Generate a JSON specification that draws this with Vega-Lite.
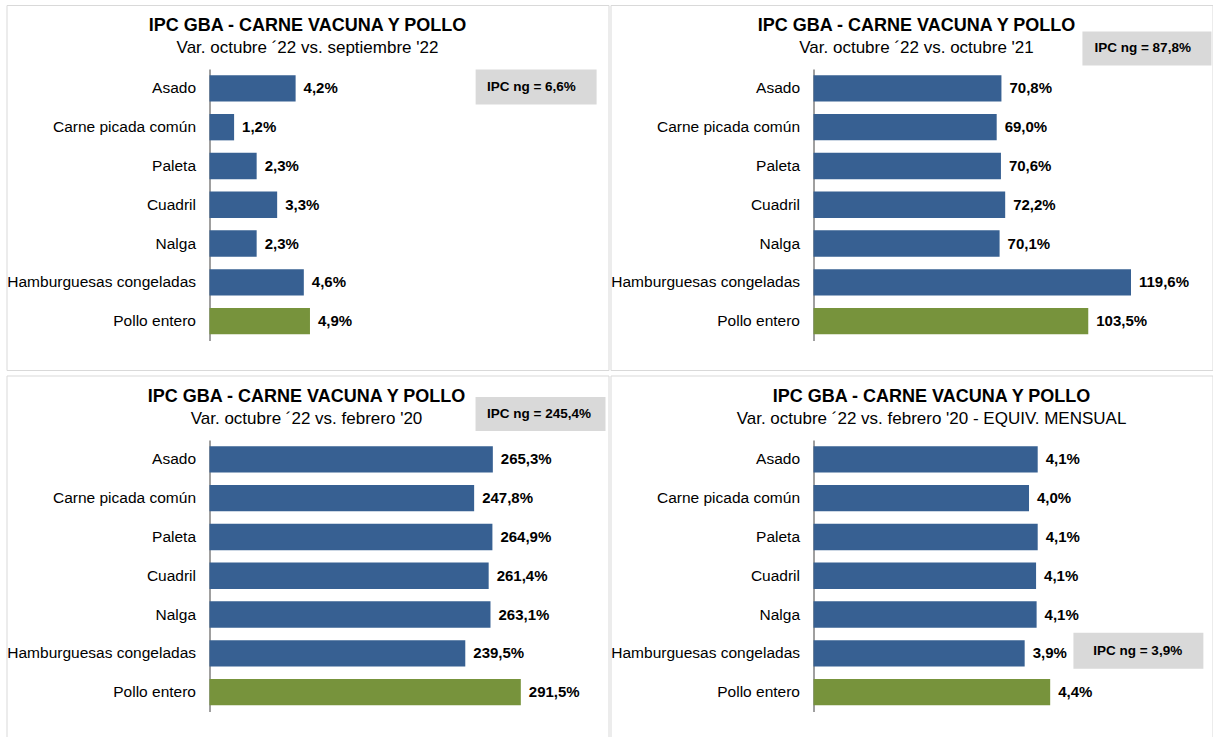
{
  "$schema": "https://vega.github.io/schema/vega-lite/v6.json",
  "background": "white",
  "padding": {"left": 5.5, "top": 4, "right": 0, "bottom": 0},
  "columns": 2,
  "spacing": {"row": 3.5, "column": 0},
  "config": {
    "view": {"stroke": "#d9d9d9", "strokeWidth": 1},
    "font": "Liberation Sans",
    "title": {"anchor": "middle", "frame": "group", "offset": -51, "font": "Liberation Sans", "fontSize": 18, "fontWeight": "bold", "color": "#000000", "subtitleFont": "Liberation Sans", "subtitleFontSize": 17, "subtitleColor": "#000000", "subtitlePadding": 5},
    "axisY": {"orient": "left", "offset": -203, "domainColor": "#404040", "domainWidth": 1, "ticks": false, "grid": false, "labelPadding": 14, "labelFontSize": 15.5, "labelFont": "Liberation Sans", "labelColor": "#000000", "labelLimit": 400, "title": null}
  },
  "datasets": {
    "p1": [
      {"item": "Asado", "value": 4.2, "label": "4,2%", "group": "vacuna"},
      {"item": "Carne picada común", "value": 1.2, "label": "1,2%", "group": "vacuna"},
      {"item": "Paleta", "value": 2.3, "label": "2,3%", "group": "vacuna"},
      {"item": "Cuadril", "value": 3.3, "label": "3,3%", "group": "vacuna"},
      {"item": "Nalga", "value": 2.3, "label": "2,3%", "group": "vacuna"},
      {"item": "Hamburguesas congeladas", "value": 4.6, "label": "4,6%", "group": "vacuna"},
      {"item": "Pollo entero", "value": 4.9, "label": "4,9%", "group": "pollo"}
    ],
    "p2": [
      {"item": "Asado", "value": 70.8, "label": "70,8%", "group": "vacuna"},
      {"item": "Carne picada común", "value": 69.0, "label": "69,0%", "group": "vacuna"},
      {"item": "Paleta", "value": 70.6, "label": "70,6%", "group": "vacuna"},
      {"item": "Cuadril", "value": 72.2, "label": "72,2%", "group": "vacuna"},
      {"item": "Nalga", "value": 70.1, "label": "70,1%", "group": "vacuna"},
      {"item": "Hamburguesas congeladas", "value": 119.6, "label": "119,6%", "group": "vacuna"},
      {"item": "Pollo entero", "value": 103.5, "label": "103,5%", "group": "pollo"}
    ],
    "p3": [
      {"item": "Asado", "value": 265.3, "label": "265,3%", "group": "vacuna"},
      {"item": "Carne picada común", "value": 247.8, "label": "247,8%", "group": "vacuna"},
      {"item": "Paleta", "value": 264.9, "label": "264,9%", "group": "vacuna"},
      {"item": "Cuadril", "value": 261.4, "label": "261,4%", "group": "vacuna"},
      {"item": "Nalga", "value": 263.1, "label": "263,1%", "group": "vacuna"},
      {"item": "Hamburguesas congeladas", "value": 239.5, "label": "239,5%", "group": "vacuna"},
      {"item": "Pollo entero", "value": 291.5, "label": "291,5%", "group": "pollo"}
    ],
    "p4": [
      {"item": "Asado", "value": 4.13, "label": "4,1%", "group": "vacuna"},
      {"item": "Carne picada común", "value": 3.97, "label": "4,0%", "group": "vacuna"},
      {"item": "Paleta", "value": 4.13, "label": "4,1%", "group": "vacuna"},
      {"item": "Cuadril", "value": 4.10, "label": "4,1%", "group": "vacuna"},
      {"item": "Nalga", "value": 4.11, "label": "4,1%", "group": "vacuna"},
      {"item": "Hamburguesas congeladas", "value": 3.89, "label": "3,9%", "group": "vacuna"},
      {"item": "Pollo entero", "value": 4.36, "label": "4,4%", "group": "pollo"}
    ],
    "ipc1": [{"label": "IPC ng = 6,6%", "value": 6.6}],
    "ipc2": [{"label": "IPC ng = 87,8%", "value": 87.8}],
    "ipc3": [{"label": "IPC ng = 245,4%", "value": 245.4}],
    "ipc4": [{"label": "IPC ng = 3,9%", "value": 3.9}]
  },
  "concat": [
    {
      "width": 602, "height": 365,
      "title": {"text": "IPC GBA - CARNE VACUNA Y POLLO", "subtitle": "Var. octubre ´22 vs. septiembre '22", "dx": 0},
      "layer": [
        {
          "data": {"name": "ipc1"},
          "mark": {"type": "bar", "height": 35, "yOffset": -1.5, "color": "#d9d9d9"},
          "encoding": {
            "x": {"datum": 12.98, "type": "quantitative", "scale": {"domain": [0, 19.46], "range": [203, 602], "nice": false}, "axis": null},
            "x2": {"datum": 18.88},
            "y": {"datum": "Asado", "type": "nominal"}
          }
        },
        {
          "data": {"name": "ipc1"},
          "mark": {"type": "text", "yOffset": -1.5, "align": "center", "baseline": "middle", "fontSize": 13.5, "fontWeight": "bold", "font": "Liberation Sans", "color": "#000000"},
          "encoding": {
            "x": {"datum": 15.7, "type": "quantitative"},
            "y": {"datum": "Asado", "type": "nominal"},
            "text": {"field": "label"}
          }
        },
        {
          "data": {"name": "p1"},
          "mark": {"type": "bar"},
          "encoding": {
            "y": {"field": "item", "type": "nominal", "scale": {"domain": ["Asado", "Carne picada común", "Paleta", "Cuadril", "Nalga", "Hamburguesas congeladas", "Pollo entero"], "range": [64, 335.5], "paddingInner": 0.32, "paddingOuter": 0.16}},
            "x": {"field": "value", "type": "quantitative"},
            "color": {"field": "group", "type": "nominal", "scale": {"domain": ["vacuna", "pollo"], "range": ["#376092", "#77933c"]}, "legend": null}
          }
        },
        {
          "data": {"name": "p1"},
          "mark": {"type": "text", "align": "left", "baseline": "middle", "dx": 8, "fontSize": 15, "fontWeight": "bold", "font": "Liberation Sans", "color": "#000000"},
          "encoding": {
            "y": {"field": "item", "type": "nominal"},
            "x": {"field": "value", "type": "quantitative"},
            "text": {"field": "label"}
          }
        }
      ]
    },
    {
      "width": 602, "height": 365,
      "title": {"text": "IPC GBA - CARNE VACUNA Y POLLO", "subtitle": "Var. octubre ´22 vs. octubre '21", "dx": 5},
      "layer": [
        {
          "data": {"name": "ipc2"},
          "mark": {"type": "bar", "height": 34, "yOffset": -40, "color": "#d9d9d9"},
          "encoding": {
            "x": {"datum": 101.3, "type": "quantitative", "scale": {"domain": [0, 150.3], "range": [203, 602], "nice": false}, "axis": null},
            "x2": {"datum": 149.9},
            "y": {"datum": "Asado", "type": "nominal"}
          }
        },
        {
          "data": {"name": "ipc2"},
          "mark": {"type": "text", "yOffset": -40, "align": "center", "baseline": "middle", "fontSize": 13.5, "fontWeight": "bold", "font": "Liberation Sans", "color": "#000000"},
          "encoding": {
            "x": {"datum": 124.0, "type": "quantitative"},
            "y": {"datum": "Asado", "type": "nominal"},
            "text": {"field": "label"}
          }
        },
        {
          "data": {"name": "p2"},
          "mark": {"type": "bar"},
          "encoding": {
            "y": {"field": "item", "type": "nominal", "scale": {"domain": ["Asado", "Carne picada común", "Paleta", "Cuadril", "Nalga", "Hamburguesas congeladas", "Pollo entero"], "range": [64, 335.5], "paddingInner": 0.32, "paddingOuter": 0.16}},
            "x": {"field": "value", "type": "quantitative"},
            "color": {"field": "group", "type": "nominal", "scale": {"domain": ["vacuna", "pollo"], "range": ["#376092", "#77933c"]}, "legend": null}
          }
        },
        {
          "data": {"name": "p2"},
          "mark": {"type": "text", "align": "left", "baseline": "middle", "dx": 8, "fontSize": 15, "fontWeight": "bold", "font": "Liberation Sans", "color": "#000000"},
          "encoding": {
            "y": {"field": "item", "type": "nominal"},
            "x": {"field": "value", "type": "quantitative"},
            "text": {"field": "label"}
          }
        }
      ]
    },
    {
      "width": 602, "height": 365,
      "title": {"text": "IPC GBA - CARNE VACUNA Y POLLO", "subtitle": "Var. octubre ´22 vs. febrero '20", "dx": -1},
      "layer": [
        {
          "data": {"name": "ipc3"},
          "mark": {"type": "bar", "height": 34, "yOffset": -45.5, "color": "#d9d9d9"},
          "encoding": {
            "x": {"datum": 249.1, "type": "quantitative", "scale": {"domain": [0, 373.6], "range": [203, 602], "nice": false}, "axis": null},
            "x2": {"datum": 370.8},
            "y": {"datum": "Asado", "type": "nominal"}
          }
        },
        {
          "data": {"name": "ipc3"},
          "mark": {"type": "text", "yOffset": -45.5, "align": "center", "baseline": "middle", "fontSize": 13.5, "fontWeight": "bold", "font": "Liberation Sans", "color": "#000000"},
          "encoding": {
            "x": {"datum": 308.5, "type": "quantitative"},
            "y": {"datum": "Asado", "type": "nominal"},
            "text": {"field": "label"}
          }
        },
        {
          "data": {"name": "p3"},
          "mark": {"type": "bar"},
          "encoding": {
            "y": {"field": "item", "type": "nominal", "scale": {"domain": ["Asado", "Carne picada común", "Paleta", "Cuadril", "Nalga", "Hamburguesas congeladas", "Pollo entero"], "range": [64.5, 336], "paddingInner": 0.32, "paddingOuter": 0.16}},
            "x": {"field": "value", "type": "quantitative"},
            "color": {"field": "group", "type": "nominal", "scale": {"domain": ["vacuna", "pollo"], "range": ["#376092", "#77933c"]}, "legend": null}
          }
        },
        {
          "data": {"name": "p3"},
          "mark": {"type": "text", "align": "left", "baseline": "middle", "dx": 8, "fontSize": 15, "fontWeight": "bold", "font": "Liberation Sans", "color": "#000000"},
          "encoding": {
            "y": {"field": "item", "type": "nominal"},
            "x": {"field": "value", "type": "quantitative"},
            "text": {"field": "label"}
          }
        }
      ]
    },
    {
      "width": 602, "height": 365,
      "title": {"text": "IPC GBA - CARNE VACUNA Y POLLO", "subtitle": "Var. octubre ´22 vs. febrero '20 - EQUIV. MENSUAL", "dx": 20},
      "layer": [
        {
          "data": {"name": "ipc4"},
          "mark": {"type": "bar", "height": 36, "yOffset": -2.5, "color": "#d9d9d9"},
          "encoding": {
            "x": {"datum": 4.788, "type": "quantitative", "scale": {"domain": [0, 7.35], "range": [203, 602], "nice": false}, "axis": null},
            "x2": {"datum": 7.182},
            "y": {"datum": "Hamburguesas congeladas", "type": "nominal"}
          }
        },
        {
          "data": {"name": "ipc4"},
          "mark": {"type": "text", "yOffset": -2.5, "align": "center", "baseline": "middle", "fontSize": 13.5, "fontWeight": "bold", "font": "Liberation Sans", "color": "#000000"},
          "encoding": {
            "x": {"datum": 5.972, "type": "quantitative"},
            "y": {"datum": "Hamburguesas congeladas", "type": "nominal"},
            "text": {"field": "label"}
          }
        },
        {
          "data": {"name": "p4"},
          "mark": {"type": "bar"},
          "encoding": {
            "y": {"field": "item", "type": "nominal", "scale": {"domain": ["Asado", "Carne picada común", "Paleta", "Cuadril", "Nalga", "Hamburguesas congeladas", "Pollo entero"], "range": [64.5, 336], "paddingInner": 0.32, "paddingOuter": 0.16}},
            "x": {"field": "value", "type": "quantitative"},
            "color": {"field": "group", "type": "nominal", "scale": {"domain": ["vacuna", "pollo"], "range": ["#376092", "#77933c"]}, "legend": null}
          }
        },
        {
          "data": {"name": "p4"},
          "mark": {"type": "text", "align": "left", "baseline": "middle", "dx": 8, "fontSize": 15, "fontWeight": "bold", "font": "Liberation Sans", "color": "#000000"},
          "encoding": {
            "y": {"field": "item", "type": "nominal"},
            "x": {"field": "value", "type": "quantitative"},
            "text": {"field": "label"}
          }
        }
      ]
    }
  ]
}
